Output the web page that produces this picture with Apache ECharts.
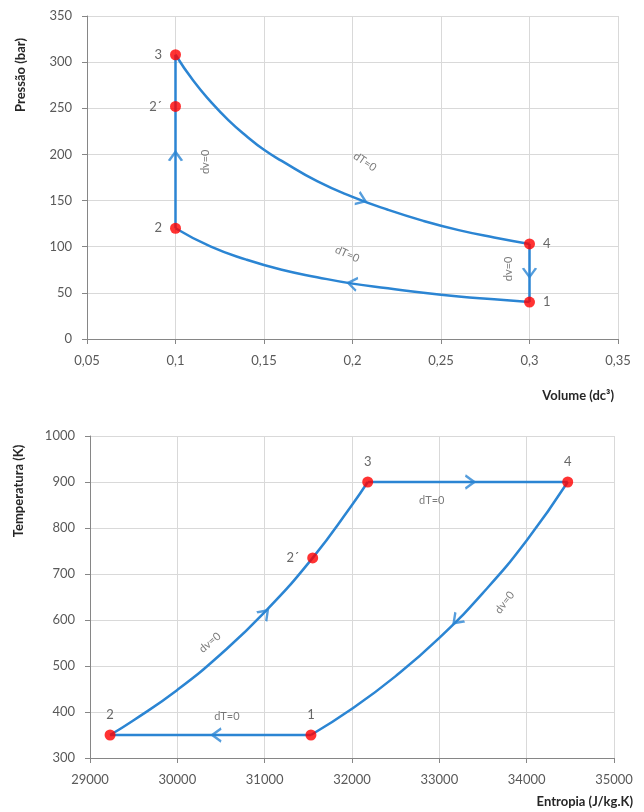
<!DOCTYPE html>
<html>
<head>
<meta charset="utf-8">
<script src="https://cdn.jsdelivr.net/npm/echarts@6/dist/echarts.min.js"></script>
<style>
  html, body { margin: 0; padding: 0; background: #fff; }
  #grafico { width: 644px; height: 812px; }
</style>
</head>
<body>
<div id="grafico"></div>
<script>
// ---- diagrama P-v ----
var pvPontos = [[0.1, 120], [0.1, 252], [0.1, 308], [0.3, 103], [0.3, 40]];
var pvNomes = ['2', '2´', '3', '4', '1'];
var pvLadoRotulo = ['left', 'left', 'left', 'right', 'right'];
// isotérmica 3-4 (dT=0)
var pvExpansao = [[0.1, 308], [0.11, 280], [0.12, 257], [0.13, 237], [0.14, 220], [0.15, 205],
  [0.16, 193], [0.18, 171], [0.2, 154], [0.22, 140], [0.24, 128], [0.26, 118], [0.28, 110], [0.3, 103]];
// isotérmica 1-2 (dT=0)
var pvCompressao = [[0.3, 40], [0.28, 43], [0.26, 46], [0.24, 50], [0.22, 55], [0.2, 60],
  [0.18, 67], [0.16, 75], [0.14, 86], [0.12, 100], [0.1, 120]];
// isocóricas (dv=0)
var pvAquecimento = [[0.1, 120], [0.1, 308]];
var pvArrefecimento = [[0.3, 103], [0.3, 40]];
// setas: [v, p, rotação]
var pvSetas = [[0.1, 198, 0], [0.205, 151, -112], [0.3, 72, 180], [0.2, 60, 81]];
// textos: [v, p, texto, rotação]
var pvTextos = [[0.207, 192, 'dT=0', -34], [0.197, 92, 'dT=0', -24], [0.117, 192, 'dv=0', 90], [0.288, 76, 'dv=0', 90]];

// ---- diagrama T-s ----
var tsPontos = [[29230, 350], [31550, 735], [32180, 900], [34470, 900], [31530, 350]];
var tsNomes = ['2', '2´', '3', '4', '1'];
var tsLadoRotulo = ['top', 'left', 'top', 'top', 'top'];
var tsIsocorica1 = [[29230, 350], [29500, 382], [30000, 448], [30500, 526], [31000, 617],
  [31550, 735], [32000, 850], [32180, 900]];
var tsIsotermica1 = [[32180, 900], [34470, 900]];
var tsIsocorica2 = [[34470, 900], [34000, 773], [33500, 659], [33000, 561], [32500, 478],
  [32000, 407], [31530, 350]];
var tsIsotermica2 = [[31530, 350], [29230, 350]];
var tsSetas = [[31000, 614, -44], [33350, 900, -90], [33200, 600, 135], [30450, 350, 90]];
var tsTextos = [[32913, 860, 'dT=0', 0], [30567, 391, 'dT=0', 0], [30373, 551, 'dv=0', 40], [33748, 638, 'dv=0', 52]];

var azul = '#2b85d3';
var cinzaTexto = '#595959';
var fonte = 'Lato, "Open Sans", sans-serif';

function linha(dados, xi) {
  return {
    type: 'line', xAxisIndex: xi, yAxisIndex: xi, data: dados,
    showSymbol: false, smooth: true, lineStyle: { color: azul, width: 2.5 },
    silent: true, z: 2
  };
}

function pontos(lista, nomes, lados, xi) {
  var d = [];
  for (var i = 0; i < lista.length; i++) {
    d.push({ value: lista[i], name: nomes[i], label: { position: lados[i] } });
  }
  return {
    type: 'scatter', xAxisIndex: xi, yAxisIndex: xi, data: d,
    symbolSize: 11, itemStyle: { color: '#ff0000' }, z: 4,
    label: {
      show: true, formatter: '{b}', color: '#404040', fontSize: 13,
      fontFamily: fonte, distance: 8
    }
  };
}

function setas(lista, xi) {
  var d = [];
  for (var i = 0; i < lista.length; i++) {
    d.push({ value: [lista[i][0], lista[i][1]], symbolRotate: lista[i][2] });
  }
  return {
    type: 'scatter', xAxisIndex: xi, yAxisIndex: xi, data: d,
    symbol: 'path://M0,9 L6,0 L12,9', symbolSize: [13, 9],
    itemStyle: { color: 'transparent', borderColor: azul, borderWidth: 2.2 },
    silent: true, z: 3
  };
}

function textos(lista, xi) {
  var d = [];
  for (var i = 0; i < lista.length; i++) {
    d.push({ value: [lista[i][0], lista[i][1]], name: lista[i][2], label: { rotate: lista[i][3] } });
  }
  return {
    type: 'scatter', xAxisIndex: xi, yAxisIndex: xi, data: d,
    symbolSize: 0, silent: true, z: 5,
    label: {
      show: true, position: 'inside', formatter: '{b}', color: cinzaTexto,
      fontSize: 11, fontFamily: fonte
    }
  };
}

function rotuloEixo(fmt) {
  return { color: cinzaTexto, fontSize: 13, fontFamily: fonte, margin: 15, formatter: fmt };
}

function eixo(extra) {
  var base = {
    type: 'value',
    axisLine: { show: true, onZero: false, lineStyle: { color: '#868686', width: 1 } },
    axisTick: { show: true, length: 5, lineStyle: { color: '#868686' } },
    splitLine: { show: true, lineStyle: { color: '#d9d9d9', width: 1 } }
  };
  for (var k in extra) base[k] = extra[k];
  return base;
}

function virgula(v) {
  return String(+v.toFixed(2)).replace('.', ',');
}

function simples(v) {
  return String(Math.round(v));
}

var grafico = echarts.init(document.getElementById('grafico'));
var option = {
  backgroundColor: '#ffffff',
  animation: false,
  grid: [
    { left: 87, top: 16, width: 531, height: 323 },
    { left: 90, top: 436, width: 524, height: 322 }
  ],
  xAxis: [
    eixo({ gridIndex: 0, min: 0.05, max: 0.35, interval: 0.05, axisLabel: rotuloEixo(virgula) }),
    eixo({ gridIndex: 1, min: 29000, max: 35000, interval: 1000, axisLabel: rotuloEixo(simples) })
  ],
  yAxis: [
    eixo({ gridIndex: 0, min: 0, max: 350, interval: 50, axisLabel: rotuloEixo(simples) }),
    eixo({ gridIndex: 1, min: 300, max: 1000, interval: 100, axisLabel: rotuloEixo(simples) })
  ],
  graphic: [
    { type: 'text', x: 21, y: 75, rotation: Math.PI / 2,
      style: { text: 'Pressão (bar)', fontSize: 13, fontWeight: 'bold', fontFamily: fonte,
        fill: '#262626', align: 'center', verticalAlign: 'middle' } },
    { type: 'text', x: 614, y: 396,
      style: { text: 'Volume (dc³)', fontSize: 13, fontWeight: 'bold', fontFamily: fonte,
        fill: '#262626', align: 'right', verticalAlign: 'middle' } },
    { type: 'text', x: 19, y: 491, rotation: Math.PI / 2,
      style: { text: 'Temperatura (K)', fontSize: 13, fontWeight: 'bold', fontFamily: fonte,
        fill: '#262626', align: 'center', verticalAlign: 'middle' } },
    { type: 'text', x: 633, y: 802,
      style: { text: 'Entropia (J/kg.K)', fontSize: 13, fontWeight: 'bold', fontFamily: fonte,
        fill: '#262626', align: 'right', verticalAlign: 'middle' } }
  ],
  series: [
    linha(pvExpansao, 0),
    linha(pvCompressao, 0),
    linha(pvAquecimento, 0),
    linha(pvArrefecimento, 0),
    setas(pvSetas, 0),
    textos(pvTextos, 0),
    pontos(pvPontos, pvNomes, pvLadoRotulo, 0),
    linha(tsIsocorica1, 1),
    linha(tsIsotermica1, 1),
    linha(tsIsocorica2, 1),
    linha(tsIsotermica2, 1),
    setas(tsSetas, 1),
    textos(tsTextos, 1),
    pontos(tsPontos, tsNomes, tsLadoRotulo, 1)
  ]
};
grafico.setOption(option);
</script>
</body>
</html>
